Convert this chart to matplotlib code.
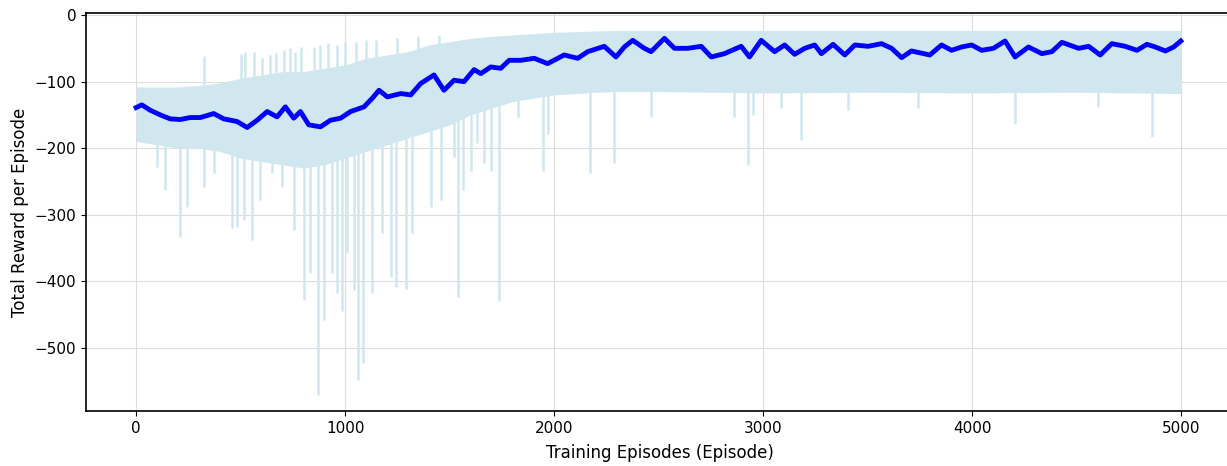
import numpy as np
import matplotlib.pyplot as plt

# smoothed reward curve
smooth_ep = [0, 27, 67, 115, 163, 211, 259, 307, 371, 419, 483, 531, 579, 627, 674, 714,
             754, 786, 826, 882, 930, 978, 1026, 1090, 1130, 1162, 1202, 1266, 1314, 1361,
             1425, 1473, 1521, 1569, 1617, 1649, 1697, 1745, 1785, 1841, 1905, 1969, 2048,
             2113, 2161, 2240, 2296, 2336, 2376, 2432, 2464, 2528, 2576, 2640, 2704, 2752,
             2815, 2895, 2935, 2991, 3055, 3103, 3151, 3199, 3247, 3279, 3335, 3391, 3439,
             3503, 3567, 3615, 3663, 3710, 3798, 3854, 3902, 3950, 3998, 4046, 4102, 4158,
             4206, 4270, 4334, 4382, 4430, 4510, 4558, 4613, 4669, 4733, 4789, 4837, 4877,
             4925, 4965, 4999]
smooth_val = [-139, -135, -143, -150, -156, -157, -154, -154, -148, -156, -160, -169, -158,
              -145, -153, -138, -155, -145, -165, -168, -158, -155, -145, -138, -125, -113,
              -123, -118, -120, -103, -90, -113, -98, -100, -82, -88, -78, -80, -68, -68,
              -65, -73, -60, -65, -55, -47, -63, -48, -38, -50, -55, -35, -50, -50, -47,
              -63, -58, -47, -63, -38, -55, -45, -59, -50, -45, -58, -44, -60, -45, -47,
              -43, -50, -64, -54, -60, -45, -53, -48, -45, -53, -50, -39, -63, -48, -58,
              -55, -41, -50, -47, -60, -43, -47, -53, -44, -48, -54, -48, -39]

# dense part of the raw episode rewards (upper / lower edge)
band_ep = [0, 100, 200, 300, 400, 500, 600, 700, 800, 900, 1000, 1100, 1200, 1300, 1400,
           1500, 1600, 1700, 1800, 1900, 2000, 2100, 2200, 2300, 2500, 3000, 3500, 4000,
           4500, 5000]
band_top = [-108, -108, -108, -106, -102, -95, -90, -85, -85, -80, -75, -65, -60, -55, -45,
            -40, -35, -32, -30, -28, -26, -25, -24, -23, -23, -23, -23, -23, -23, -23]
band_bottom = [-190, -195, -200, -200, -205, -215, -220, -225, -230, -225, -215, -205, -195,
               -185, -175, -165, -150, -140, -130, -125, -120, -118, -116, -115, -115, -117,
               -116, -117, -116, -118]

# isolated raw spikes
down_ep = [99, 139, 208, 243, 323, 371, 459, 483, 515, 555, 594, 650, 698, 754, 805, 834,
           869, 898, 938, 962, 986, 1010, 1042, 1063, 1087, 1130, 1178, 1218, 1242, 1290,
           1322, 1409, 1457, 1521, 1540, 1566, 1601, 1633, 1665, 1697, 1734, 1825, 1945,
           1969, 2173, 2288, 2464, 2863, 2928, 2950, 3087, 3183, 3407, 3742, 4206, 4605,
           4861]
down_val = [-228, -263, -333, -288, -258, -238, -320, -318, -308, -338, -278, -238, -258,
            -323, -428, -388, -571, -458, -388, -418, -445, -358, -413, -548, -523, -418,
            -328, -393, -408, -411, -328, -288, -278, -213, -423, -263, -235, -193, -223,
            -235, -430, -153, -235, -178, -238, -223, -153, -153, -225, -150, -140, -188,
            -143, -140, -163, -138, -183]
up_ep = [326, 503, 520, 562, 600, 640, 671, 706, 738, 760, 790, 850, 880, 920, 962, 1000,
         1050, 1100, 1150, 1250, 1350, 1450]
up_val = [-62, -58, -55, -55, -65, -60, -57, -52, -49, -56, -48, -48, -45, -42, -45, -40,
          -40, -38, -37, -35, -32, -30]

raw_color = '#d0e7ef'

fig = plt.figure(figsize=(12.27, 4.66), dpi=100)
ax = fig.add_axes([0.0701, 0.118, 0.935, 0.854])

ax.fill_between(band_ep, band_bottom, band_top, color=raw_color, linewidth=0)
ax.vlines(down_ep, down_val, np.interp(down_ep, band_ep, band_bottom) + 5,
          color=raw_color, linewidth=1.8)
ax.vlines(up_ep, np.interp(up_ep, band_ep, band_top) - 5, up_val,
          color=raw_color, linewidth=1.8)
ax.plot(smooth_ep, smooth_val, color='blue', linewidth=3.5)

ax.set_xlim(-240, 5250)
ax.set_ylim(-595, 3)
ax.set_xticks([0, 1000, 2000, 3000, 4000, 5000])
ax.set_yticks([0, -100, -200, -300, -400, -500])
ax.tick_params(labelsize=11)
ax.grid(color='#dddddd', linewidth=0.8)
ax.set_axisbelow(True)
ax.set_xlabel('Training Episodes (Episode)', fontsize=12, labelpad=6)
ax.set_ylabel('Total Reward per Episode', fontsize=12)
for s in ax.spines.values():
    s.set_linewidth(1.2)

fig.savefig('out.png', dpi=100)
